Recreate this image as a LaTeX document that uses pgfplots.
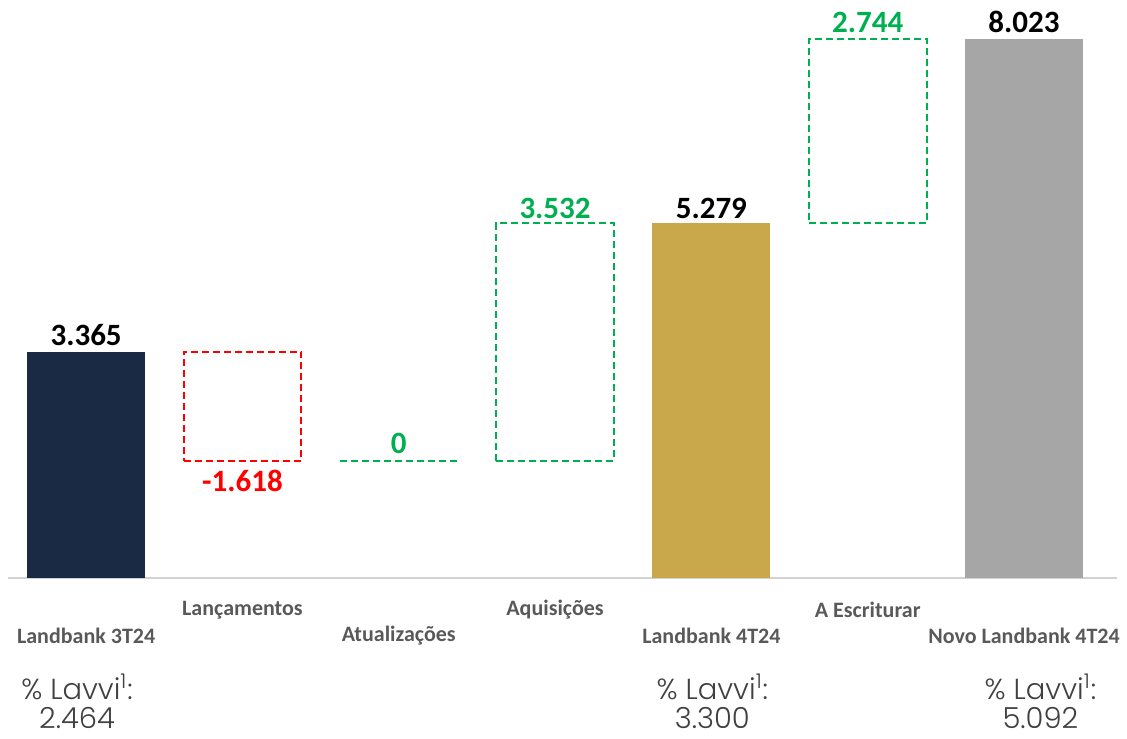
\documentclass[border=0pt]{standalone}
\usepackage{pgfplots}
\pgfplotsset{compat=1.18}
\usepackage{fontspec}
\setmainfont{Carlito}
\newfontfamily\lightfont{Poppins}[UprightFont={* Light}]
\definecolor{navy}{RGB}{27,42,68}
\definecolor{gold}{RGB}{200,168,75}
\definecolor{barGray}{RGB}{166,166,166}
\definecolor{upGreen}{RGB}{0,176,80}
\definecolor{downRed}{RGB}{255,0,0}
\definecolor{catGray}{RGB}{89,89,89}
\definecolor{noteGray}{RGB}{64,64,64}
\tikzset{
    vl/.style={font=\bfseries\fontsize{15.5}{17}\selectfont},
    cat/.style={font=\bfseries\fontsize{11}{13}\selectfont, text=catGray},
    note/.style={font=\lightfont\fontsize{14.5}{16}\selectfont, text=noteGray, inner sep=0pt},
    box/.style={line width=1pt, dash pattern=on 3.5pt off 2pt, fill=none}
}
\begin{document}
\begin{tikzpicture}
\begin{axis}[
    x=78.15pt, y=33.6pt,
    xmin=-0.5, xmax=6.595, ymin=0, ymax=8.6,
    hide y axis,
    axis x line*=bottom,
    x axis line style={draw=gray!35, line width=0.6pt, -},
    xtick=\empty, ytick=\empty,
    clip=false,
    ybar, bar width=59pt, bar shift=0pt,
]
% solid totals
\addplot[fill=navy, draw=none] coordinates {(0,3.365)};
\addplot[fill=gold, draw=none] coordinates {(4,5.279)};
\addplot[fill=barGray, draw=none] coordinates {(6,8.023)};

% floating steps (bottom, top)
\addplot[sharp plot, box, draw=downRed] coordinates {(0.623,1.747) (1.377,1.747) (1.377,3.365) (0.623,3.365)} --cycle;
\addplot[sharp plot, box, draw=upGreen] coordinates {(1.623,1.747) (2.377,1.747)};
\addplot[sharp plot, box, draw=upGreen] coordinates {(2.623,1.747) (3.377,1.747) (3.377,5.279) (2.623,5.279)} --cycle;
\addplot[sharp plot, box, draw=upGreen] coordinates {(4.623,5.279) (5.377,5.279) (5.377,8.023) (4.623,8.023)} --cycle;

% value labels
\node[vl] at (axis cs:0,3.616) {3.365};
\node[vl, text=downRed] at (axis cs:1,1.443) {-1.618};
\node[vl, text=upGreen] at (axis cs:2,2.009) {0};
\node[vl, text=upGreen] at (axis cs:3,5.506) {3.532};
\node[vl] at (axis cs:4,5.506) {5.279};
\node[vl, text=upGreen] at (axis cs:5,8.274) {2.744};
\node[vl] at (axis cs:6,8.274) {8.023};

% category labels
\node[cat] at (axis cs:0,-0.863) {Landbank 3T24};
\node[cat] at (axis cs:1,-0.476) {Lançamentos};
\node[cat] at (axis cs:2,-0.863) {Atualizações};
\node[cat] at (axis cs:3,-0.476) {Aquisições};
\node[cat] at (axis cs:4,-0.863) {Landbank 4T24};
\node[cat] at (axis cs:5,-0.476) {A Escriturar};
\node[cat] at (axis cs:6,-0.863) {Novo Landbank 4T24};

% notes
\node[note] at (axis cs:-0.058,-1.622) {\% Lavvi\textsuperscript{1}:};
\node[note] at (axis cs:-0.058,-2.083) {2.464};
\node[note] at (axis cs:4.006,-1.622) {\% Lavvi\textsuperscript{1}:};
\node[note] at (axis cs:4.006,-2.083) {3.300};
\node[note] at (axis cs:6.105,-1.622) {\% Lavvi\textsuperscript{1}:};
\node[note] at (axis cs:6.105,-2.083) {5.092};

\coordinate (bl) at (axis cs:-0.551,-2.381);
\coordinate (tr) at (axis cs:6.659,8.601);
\end{axis}
\pgfresetboundingbox
\path[use as bounding box] (bl) rectangle (tr);
\end{tikzpicture}
\end{document}
